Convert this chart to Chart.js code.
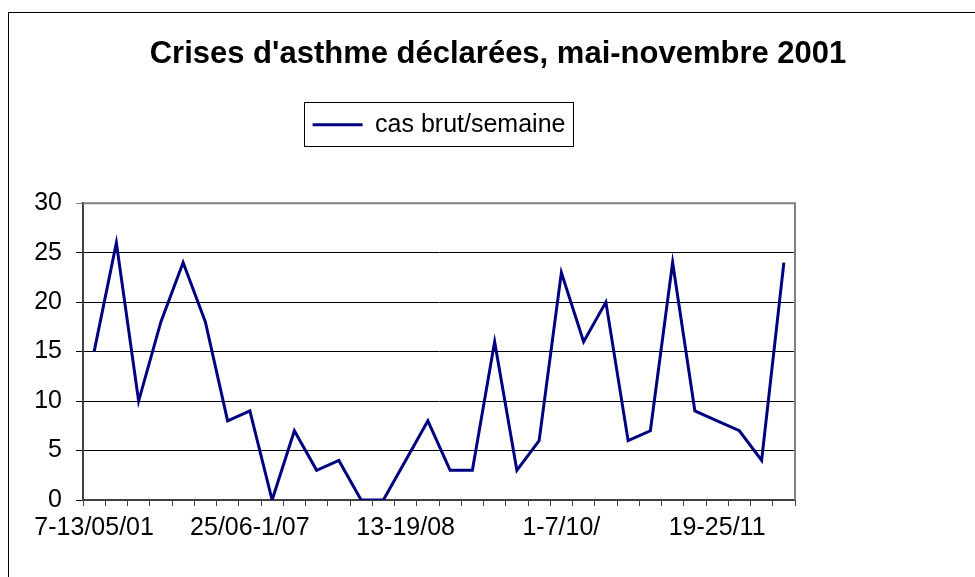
<!DOCTYPE html>
<html>
<head>
<meta charset="utf-8">
<script src="https://cdn.jsdelivr.net/npm/chart.js@4/dist/chart.umd.min.js"></script>
<style>
	html, body { margin: 0; padding: 0; background: #fff; overflow: hidden; }
	canvas { display: block; }
</style>
</head>
<body>
<canvas id="myChart" width="996" height="577"></canvas>
<script>
// weekly asthma attacks, May -> Nov 2001
const weeks = [
	'7-13/05/01', '14-20/05', '21-27/05', '28/05-3/06', '4-10/06', '11-17/06', '18-24/06',
	'25/06-1/07', '2-8/07', '9-15/07', '16-22/07', '23-29/07', '30/07-5/08', '6-12/08',
	'13-19/08', '20-26/08', '27/08-2/09', '3-9/09', '10-16/09', '17-23/09', '24-30/09',
	'1-7/10/', '8-14/10', '15-21/10', '22-28/10', '29/10-4/11', '5-11/11', '12-18/11',
	'19-25/11', '26/11-2/12', '3-9/12', '10-16/12',
]
const casBrut = [
	15, 26, 10, 18, 24, 18, 8, 9, 0, 7, 3, 4, 0, 0, 4, 8,
	3, 3, 16, 3, 6, 23, 16, 20, 6, 7, 24, 9, 8, 7, 4, 24,
]
const yTicks = [0, 5, 10, 15, 20, 25, 30]
const labelEvery = 7

const font = "'Liberation Sans', Arial, sans-serif"

// outer frame + grey top/right edges of the plot + box round the legend
const frames = {
	id: 'frames',
	beforeDraw(chart) {
		const c = chart.ctx
		c.save()
		c.fillStyle = '#fff'
		c.fillRect(0, 0, chart.width, chart.height)
		c.strokeStyle = '#000'
		c.lineWidth = 1
		c.strokeRect(8.5, 12.5, 1200, 1200)
		c.restore()
	},
	afterDraw(chart) {
		const c = chart.ctx
		const a = chart.chartArea
		c.save()
		c.strokeStyle = '#808080'
		c.lineWidth = 2
		c.beginPath()
		c.moveTo(a.left, a.top)
		c.lineTo(a.right, a.top)
		c.lineTo(a.right, a.bottom)
		c.stroke()
		const hb = chart.legend.legendHitBoxes[0]
		if (hb) {
			c.strokeStyle = '#000'
			c.lineWidth = 1
			c.strokeRect(Math.round(hb.left - 9) + 0.5, Math.round(hb.top - 10) + 0.5, Math.round(hb.width + 16), 44)
		}
		c.restore()
	},
}

const ctx = document.getElementById('myChart').getContext('2d')
const myChart = new Chart(ctx, {
	type: 'line',
	data: {
		labels: weeks,
		datasets: [
			{
				label: 'cas brut/semaine',
				data: casBrut,
				borderColor: '#000080',
				backgroundColor: '#000080',
				borderWidth: 3,
				pointRadius: 0,
				tension: 0,
			},
		],
	},
	options: {
		responsive: false,
		animation: false,
		layout: { padding: 0 },
		plugins: {
			title: {
				display: true,
				text: "Crises d'asthme déclarées, mai-novembre 2001",
				color: '#000',
				font: { family: font, size: 31, weight: 'bold' },
				padding: { top: 36, bottom: 0 },
			},
			legend: {
				display: true,
				fullSize: false,
				labels: {
					color: '#000',
					font: { family: font, size: 25 },
					usePointStyle: true,
					pointStyle: 'line',
					pointStyleWidth: 50,
					padding: 39,
				},
			},
			// empty spacer between legend and plot
			subtitle: {
				display: true,
				text: '',
				weight: 500,
				font: { size: 10 },
				padding: { top: 44, bottom: 0 },
			},
			tooltip: { enabled: false },
		},
		scales: {
			x: {
				offset: true,
				grid: {
					offset: true,
					drawOnChartArea: false,
					drawTicks: true,
					tickLength: 6,
					color: '#404040',
				},
				border: { color: '#404040', width: 2 },
				ticks: {
					autoSkip: false,
					maxRotation: 0,
					padding: 7,
					color: '#000',
					font: { family: font, size: 25 },
					callback: (v, i) => (i % labelEvery == 0 ? weeks[i] : ''),
				},
				afterFit: (s) => (s.height = 77),
			},
			y: {
				min: yTicks[0],
				max: yTicks[yTicks.length - 1],
				afterBuildTicks: (s) => (s.ticks = yTicks.map((v) => ({ value: v }))),
				grid: {
					color: (c) => (c.tick && c.tick.value == 30 ? '#808080' : '#000'),
					lineWidth: 1,
					tickLength: 7,
				},
				border: { color: '#404040', width: 2 },
				ticks: {
					padding: 14,
					color: '#000',
					font: { family: font, size: 25 },
				},
				afterFit: (s) => (s.width = 83),
			},
			// blank strip on the right so the plot ends at x=795
			right: {
				position: 'right',
				grid: { display: false },
				border: { display: false },
				ticks: { display: false },
				afterFit: (s) => (s.width = 201),
			},
		},
	},
	plugins: [frames],
})
</script>
</body>
</html>
